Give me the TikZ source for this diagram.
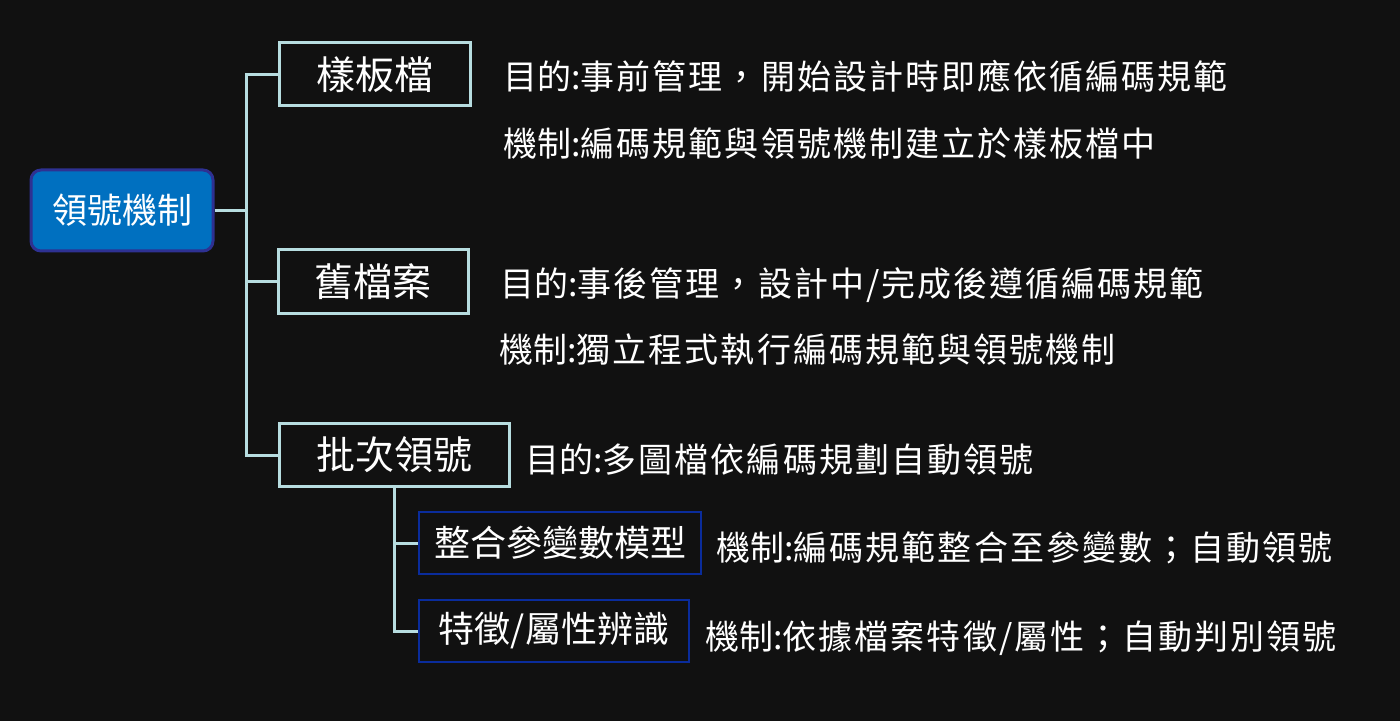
\documentclass[tikz,border=0pt]{standalone}
\usepackage{fontspec}
\setmainfont{Noto Sans CJK TC}
\usepackage{tikz}
\definecolor{bg}{HTML}{111111}
\definecolor{edgecol}{HTML}{B7DDE0}
\definecolor{rootfill}{HTML}{0070C0}
\definecolor{rootline}{HTML}{2E3192}
\definecolor{subline}{HTML}{0A2C9C}
\newcommand{\spaced}[1]{{\addfontfeature{LetterSpace=6}#1}}
\begin{document}
\begin{tikzpicture}[
	  x=0.5pt,y=-0.5pt,
	  rootbox/.style={draw=rootline,fill=rootfill,line width=1.5pt,rounded corners=5pt,minimum width=91pt,minimum height=40.5pt,text=white,font=\fontsize{17.5pt}{21pt}\selectfont},
	  mainbox/.style={draw=edgecol,line width=1.5pt,minimum height=31.5pt,text=white,font=\fontsize{19.5pt}{23pt}\selectfont},
	  subbox/.style={draw=subline,line width=0.6pt,minimum height=31pt,text=white,font=\fontsize{18pt}{22pt}\selectfont},
	  note/.style={anchor=west,inner sep=0pt,text=white,font=\fontsize{17pt}{20pt}\selectfont},
	  conn/.style={draw=edgecol,line width=1.5pt}
	]
		\fill[bg] (0,0) rectangle (1400,721);
		\useasboundingbox (0,0) rectangle (1400,721);
		\node [rootbox] (root) at (122,210.5) {領號機制};
		\node [mainbox,minimum width=95.5pt] (tmpl) at (374.5,74.5) {樣板檔};
		\node [mainbox,minimum width=95pt] (old) at (373,281.5) {舊檔案};
		\node [mainbox,minimum width=115pt] (batch) at (394,455) {批次領號};
		\node [subbox,minimum width=141pt] (param) at (560,543) {整合參變數模型};
		\node [subbox,minimum width=135pt] (feat) at (554,631) {特徵/屬性辨識};
		\coordinate (trunk) at (246,0);
		\draw [conn] (root.east) -- (root.east -| trunk);
		\draw [conn] (tmpl.west) -- (tmpl.west -| trunk) -- (batch.west -| trunk) -- (batch.west);
		\draw [conn] (old.west) -- (old.west -| trunk);
		\draw [conn] (batch.south) |- (param.west);
		\draw [conn] (batch.south) |- (feat.west);
		\node [note] (tmplaim) at (503,76) {目的:\spaced{事前管理，開始設計時即應依循編碼規範}};
		\node [note] (tmplway) at (503,143) {機制:\spaced{編碼規範與領號機制建立於樣板檔中}};
		\node [note] (oldaim) at (500,285) {目的:\spaced{事後管理，設計中/完成後遵循編碼規範}};
		\node [note] (oldway) at (499,350) {機制:\spaced{獨立程式執行編碼規範與領號機制}};
		\node [note] (batchaim) at (525,460) {目的:\spaced{多圖檔依編碼規劃自動領號}};
		\node [note] (paramway) at (716,548) {機制:\spaced{編碼規範整合至參變數；自動領號}};
		\node [note] (featway) at (705,638) {機制:\spaced{依據檔案特徵/屬性；自動判別領號}};
	\end{tikzpicture}
\end{document}
